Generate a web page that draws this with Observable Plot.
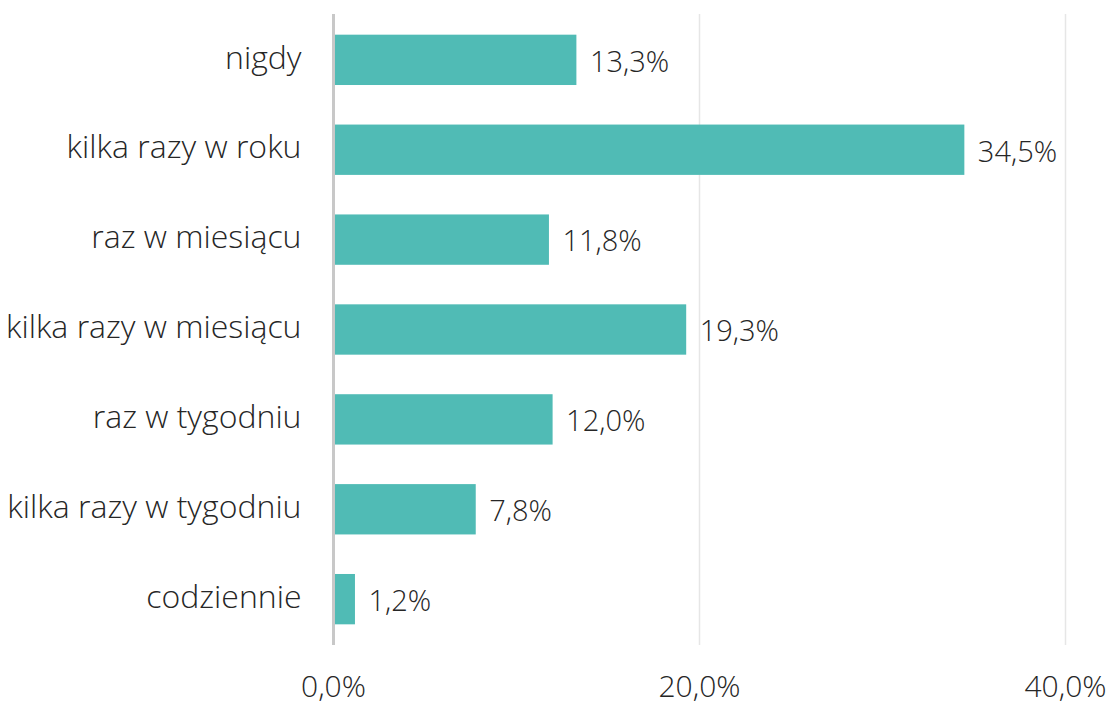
<!DOCTYPE html>
<html>
<head>
<meta charset="utf-8">
<script src="https://cdn.jsdelivr.net/npm/d3@7"></script>
<script src="https://cdn.jsdelivr.net/npm/@observablehq/plot@0.6"></script>
<style>
  html, body { margin: 0; padding: 0; background: #ffffff; }
  #chart svg { display: block; }
</style>
</head>
<body>
<div id="chart"></div>
<script>
const categories = ["nigdy", "kilka razy w roku", "raz w miesiącu", "kilka razy w miesiącu", "raz w tygodniu", "kilka razy w tygodniu", "codziennie"];
const values = [13.3, 34.5, 11.8, 19.3, 12.0, 7.8, 1.2];
const xTicks = [0, 20, 40];

const data = categories.map((c, i) => ({category: c, value: values[i]}));
const pct = v => d3.format(".1f")(v).replace(".", ",") + "%";

const chart = Plot.plot({
  width: 1110,
  height: 706,
  marginLeft: 333,
  marginRight: 45,
  marginTop: 14,
  marginBottom: 61,
  style: {fontFamily: "'Open Sans', 'Noto Sans', sans-serif", fontSize: "28px", fontWeight: 300, color: "#262626", background: "#ffffff"},
  x: {domain: [0, 40], axis: null, label: null},
  y: {domain: categories, paddingInner: 0.44, paddingOuter: 0.23, round: false, axis: null, label: null},
  marks: [
    Plot.gridX(xTicks, {stroke: "#e6e6e6", strokeOpacity: 1, strokeWidth: 1.5}),
    Plot.barX(data, {y: "category", x: "value", fill: "#50bbb5"}),
    Plot.ruleX([0], {stroke: "#c8c8c8", strokeWidth: 3}),
    Plot.text(data, {y: "category", x: "value", text: d => pct(d.value), textAnchor: "start", dx: 13, dy: 2, fill: "#262626", fontSize: 29, fontWeight: 300}),
    Plot.axisY({tickSize: 0, tickPadding: 32, dy: -2, label: null, fontSize: 32, fontWeight: 300, fill: "#262626"}),
    Plot.axisX(xTicks, {tickSize: 0, tickPadding: 30, label: null, tickFormat: pct, fontSize: 30, fontWeight: 300, fill: "#262626"})
  ]
});
document.getElementById("chart").appendChild(chart);
</script>
</body>
</html>
